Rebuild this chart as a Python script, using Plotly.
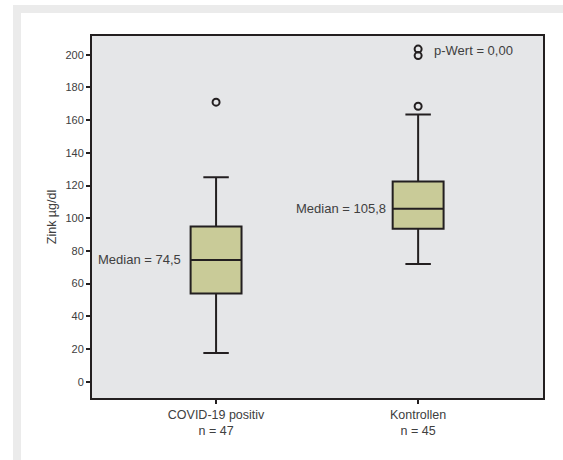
import plotly.graph_objects as go

# ---- data ----
categories = ["COVID-19 positiv<br>n = 47", "Kontrollen<br>n = 45"]
cat_pos = [0, 1]
lowerfence = [17.5, 72.0]
q1 = [54.0, 93.5]
median = [74.5, 105.8]
q3 = [95.0, 122.5]
upperfence = [125.0, 163.5]
outliers_covid = [171.0]
outliers_ctrl = [168.5, 199.5, 203.5]
median_labels = ["Median = 74,5", "Median = 105,8"]
p_label = "p-Wert = 0,00"
y_ticks = [0, 20, 40, 60, 80, 100, 120, 140, 160, 180, 200]

DARK = "#231f20"
TEXT = "#404040"
FILL = "#c9cb98"
FONT = "Liberation Sans, Arial, sans-serif"

fig = go.Figure()

for i in range(2):
    fig.add_trace(go.Box(
        x=[cat_pos[i]], q1=[q1[i]], median=[median[i]], q3=[q3[i]],
        lowerfence=[lowerfence[i]], upperfence=[upperfence[i]],
        width=0.252, whiskerwidth=0.5, fillcolor=FILL,
        line=dict(color=DARK, width=2), boxpoints=False, showlegend=False,
    ))

fig.add_trace(go.Scatter(
    x=[cat_pos[0]] * len(outliers_covid), y=outliers_covid, mode="markers",
    marker=dict(symbol="circle-open", size=7, color=DARK, line=dict(width=2, color=DARK)),
    showlegend=False))
fig.add_trace(go.Scatter(
    x=[cat_pos[1]] * len(outliers_ctrl), y=outliers_ctrl, mode="markers",
    marker=dict(symbol="circle-open", size=7, color=DARK, line=dict(width=2, color=DARK)),
    showlegend=False))

annotations = []
shifts = [-33, -30]
for i in range(2):
    annotations.append(dict(
        x=cat_pos[i], y=median[i], xref="x", yref="y", text=median_labels[i],
        showarrow=False, xanchor="right", yanchor="middle", xshift=shifts[i],
        font=dict(family=FONT, size=13, color=TEXT)))
annotations.append(dict(
    x=cat_pos[1], y=outliers_ctrl[-1], xref="x", yref="y", text=p_label,
    showarrow=False, xanchor="left", yanchor="middle", xshift=14, yshift=-1,
    font=dict(family=FONT, size=13, color=TEXT)))

G = "#ebebeb"
shapes = [
    dict(type="rect", xref="paper", yref="paper", x0=-0.1752, x1=1.3, y0=1.0635, y1=1.0856,
         fillcolor=G, line=dict(width=0), layer="below"),
    dict(type="rect", xref="paper", yref="paper", x0=-0.1752, x1=-0.1574, y0=-0.3, y1=1.0856,
         fillcolor=G, line=dict(width=0), layer="below"),
]

fig.update_layout(
    width=563, height=460,
    margin=dict(l=92, r=20, t=36, b=62),
    paper_bgcolor="white", plot_bgcolor="#e5e6e8",
    font=dict(family=FONT, color=TEXT),
    annotations=annotations, shapes=shapes,
    xaxis=dict(range=[-0.614, 1.618], tickvals=cat_pos, ticktext=categories,
               showgrid=False, zeroline=False, showline=True, linecolor=DARK, linewidth=2,
               mirror=True, ticks="outside", ticklen=4, tickwidth=1.5, tickcolor=DARK,
               tickfont=dict(family=FONT, size=12.5, color=TEXT)),
    yaxis=dict(range=[-10, 211.5], tickvals=y_ticks,
               showgrid=False, zeroline=False, showline=True, linecolor=DARK, linewidth=2,
               mirror=True, ticks="outside", ticklen=4, tickwidth=1.5, tickcolor=DARK,
               tickfont=dict(family=FONT, size=11, color=TEXT),
               title=dict(text="Zink µg/dl", standoff=6,
                          font=dict(family=FONT, size=12.5, color=TEXT))),
)

fig.write_html("out.html", config={"displayModeBar": False},
               post_script="document.body.style.margin='0';document.body.style.overflow='hidden';")
